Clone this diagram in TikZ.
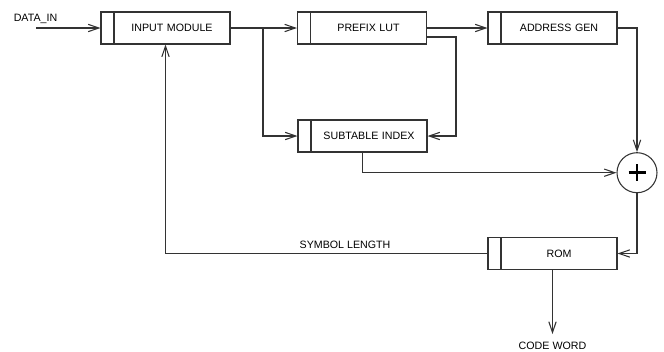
\documentclass[tikz,border=0pt]{standalone}
\usepackage{fontspec}
\setmainfont{Liberation Sans}
\usetikzlibrary{arrows.meta}
\newlength\px
\setlength\px{0.75pt}
% left padding so the label is centred in the part right of the divider
\newcommand\lbl{\hspace*{13\px}}
\begin{document}
\begin{tikzpicture}[
  x=0.75pt, y=-0.75pt,
  line width=0.8pt, draw=black!80,
  >={Straight Barb[length=8pt,width=5.5pt,line width=0.8pt]},
  every node/.style={font=\fontsize{8pt}{9.6pt}\selectfont, text=black},
  blk/.style={draw=black!80, rectangle, minimum width=129\px, minimum height=32\px,
    inner sep=0pt, text width=129\px, align=center,
    path picture={\draw[black!80, line width=0.8pt]
      ([xshift=13\px]path picture bounding box.north west) --
      ([xshift=13\px]path picture bounding box.south west);}},
  adder/.style={draw=black!80, circle, minimum size=40\px, inner sep=0pt,
    path picture={\draw[black, line width=2.2pt]
      ([xshift=-8.5\px]path picture bounding box.center) --
      ([xshift=8.5\px]path picture bounding box.center)
      ([yshift=8.5\px]path picture bounding box.center) --
      ([yshift=-8.5\px]path picture bounding box.center);}},
  lab/.style={inner sep=0pt}
]
\useasboundingbox (0,0) rectangle (664,351);

% blocks
\node[blk] (inp) at (165.5,28)  {\lbl INPUT MODULE};
\node[blk] (pre) at (362,28)    {\lbl PREFIX LUT};
\node[blk] (sub) at (362.5,136) {\lbl SUBTABLE INDEX};
\node[blk] (adr) at (552.5,28)  {\lbl ADDRESS GEN};
\node[blk] (rom) at (552.5,253.5) {\lbl ROM};
\node[adder] (sum) at (637,172.7) {};

% free ends and bends
\coordinate (din) at (36,28);
\coordinate (br) at (263,28);
\coordinate (pk) at (456,37);
\coordinate (cw) at (552.5,334);

% labels
\node[lab] (tdin) at (35.5,19) {DATA\_IN};
\node[lab] (tsym) at (345,245) {SYMBOL LENGTH};
\node[lab] (tcw) at (552.5,346) {CODE WORD};

% connectors
\draw[->] (din) -- (inp.west);
\draw[->] (inp.east) -- (pre.west);
\draw[->] (br) |- (sub.west);
\draw[->] (pre.east) -- (adr.west);
\draw[->] (pre.east |- pk) -- (pk) |- (sub.east);
\draw[->] (adr.east) -| (sum.north);
\draw[->] (sub.south) |- (sum.west);
\draw[->] (sum.south) |- (rom.east);
\draw[->] (rom.west) -| (inp.south);
\draw[->] (rom.south) -- (cw);
\end{tikzpicture}
\end{document}
